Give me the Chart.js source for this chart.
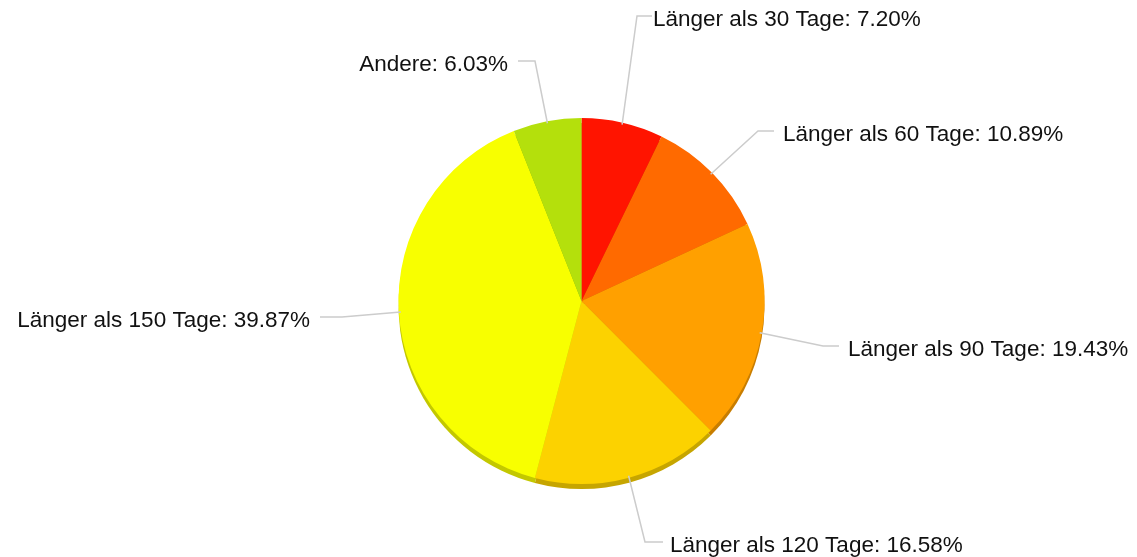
<!DOCTYPE html>
<html>
<head>
<meta charset="utf-8">
<script src="https://cdn.jsdelivr.net/npm/chart.js@4.4.1/dist/chart.umd.min.js"></script>
<style>
html,body{margin:0;padding:0;background:#fff;}
#wrap{width:1137px;height:557px;}
</style>
</head>
<body>
<div id="wrap"><canvas id="c" width="1137" height="557"></canvas></div>
<script>
const categories = ["Länger als 30 Tage", "Länger als 60 Tage", "Länger als 90 Tage", "Länger als 120 Tage", "Länger als 150 Tage", "Andere"];
const shares = [7.20, 10.89, 19.43, 16.58, 39.87, 6.03];
const sliceColors = ["#ff1400", "#ff6a00", "#ffa000", "#fcd200", "#f8ff00", "#b4e00c"];
const edgeColors = ["#c81000", "#c85300", "#c87d00", "#c6a500", "#c3c800", "#8db009"];
// label placement: elbow point, end of horizontal segment, text anchor x, text side
const labelElbows = [[637, 16], [758, 131], [823, 346], [645, 542], [342, 317], [535, 61]];
const labelEnds = [652, 774, 839, 663, 320, 518];
const labelTextX = [653, 783, 848, 670, 310, 508];
const labelSides = ["right", "right", "right", "right", "left", "left"];

const depthPlugin = {
  id: 'depth',
  beforeDatasetsDraw(chart) {
    const meta = chart.getDatasetMeta(0);
    const ctx = chart.ctx;
    const depth = 5;
    ctx.save();
    meta.data.forEach((arc, i) => {
      const p = arc.getProps(['x', 'y', 'startAngle', 'endAngle', 'outerRadius'], true);
      ctx.beginPath();
      ctx.moveTo(p.x, p.y + depth);
      ctx.arc(p.x, p.y + depth, p.outerRadius, p.startAngle, p.endAngle);
      ctx.closePath();
      ctx.fillStyle = edgeColors[i];
      ctx.fill();
    });
    ctx.restore();
  }
};

const labelPlugin = {
  id: 'outLabels',
  afterDatasetsDraw(chart) {
    const meta = chart.getDatasetMeta(0);
    const ctx = chart.ctx;
    ctx.save();
    ctx.font = '22.5px "Liberation Sans", Arial, sans-serif';
    ctx.textBaseline = 'middle';
    meta.data.forEach((arc, i) => {
      const p = arc.getProps(['x', 'y', 'startAngle', 'endAngle', 'outerRadius'], true);
      const mid = (p.startAngle + p.endAngle) / 2;
      const ex = p.x + Math.cos(mid) * (p.outerRadius - 2);
      const ey = p.y + Math.sin(mid) * (p.outerRadius - 2);
      const [kx, ky] = labelElbows[i];
      const hx = labelEnds[i];
      ctx.strokeStyle = '#cccccc';
      ctx.lineWidth = 1.5;
      ctx.beginPath();
      ctx.moveTo(ex, ey);
      ctx.lineTo(kx, ky);
      ctx.lineTo(hx, ky);
      ctx.stroke();
      ctx.fillStyle = '#111111';
      ctx.textAlign = labelSides[i] === 'right' ? 'left' : 'right';
      ctx.fillText(categories[i] + ': ' + shares[i].toFixed(2) + '%', labelTextX[i], ky + 4);
    });
    ctx.restore();
  }
};

new Chart(document.getElementById('c'), {
  type: 'pie',
  data: {
    labels: categories,
    datasets: [{
      data: shares,
      backgroundColor: sliceColors,
      borderWidth: 0,
      hoverOffset: 0
    }]
  },
  options: {
    responsive: false,
    animation: false,
    events: [],
    layout: { padding: { left: 398, right: 372, top: 118, bottom: 73 } },
    plugins: { legend: { display: false }, tooltip: { enabled: false } }
  },
  plugins: [depthPlugin, labelPlugin]
});
</script>
</body>
</html>
